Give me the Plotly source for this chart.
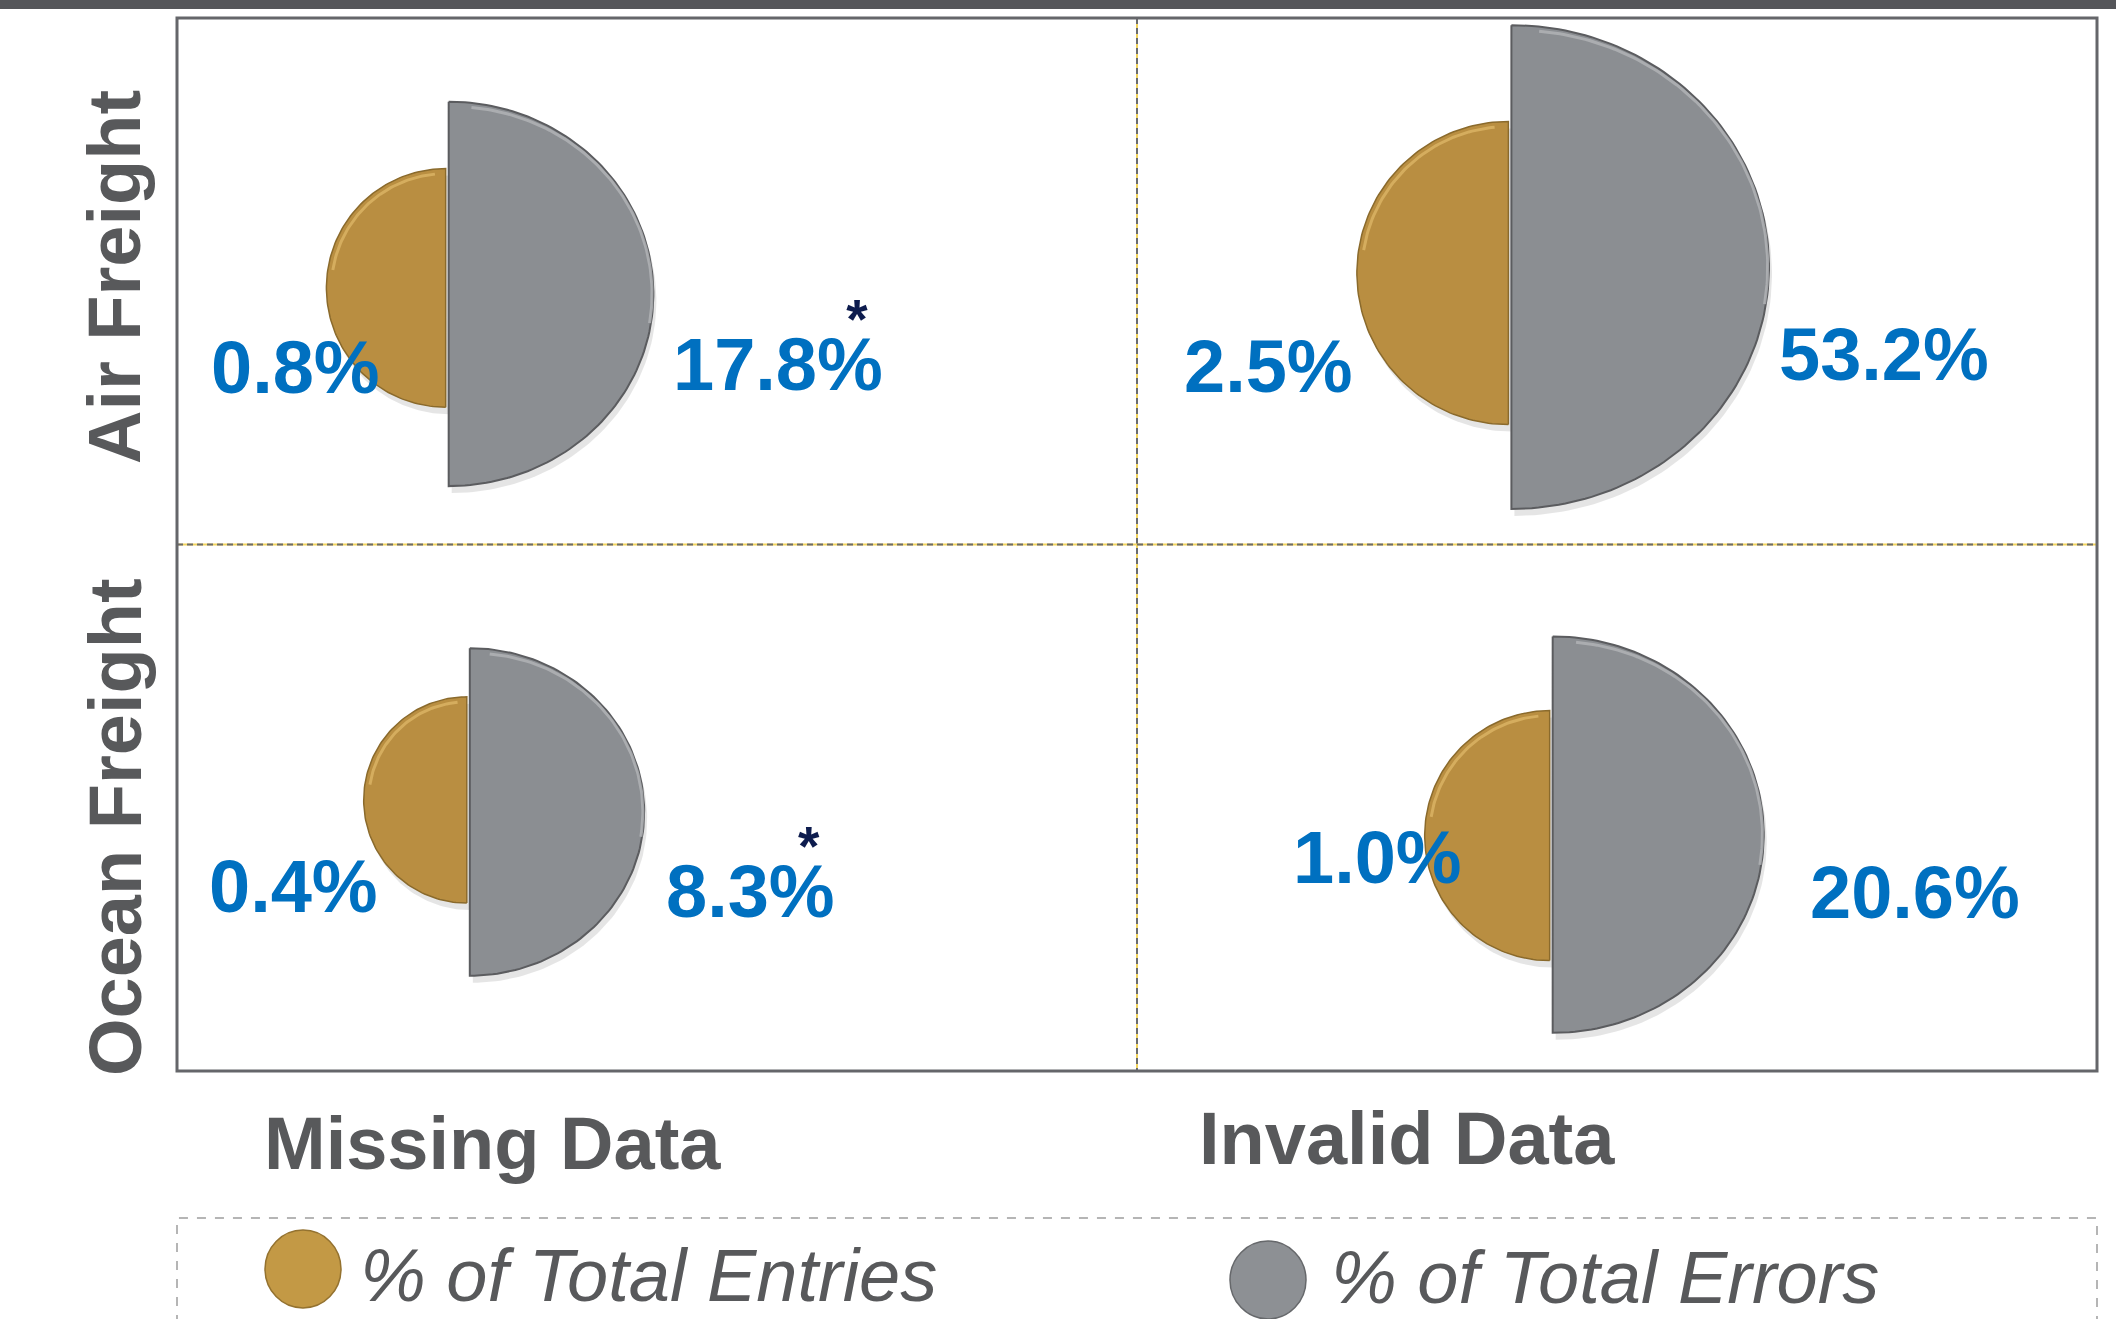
import numpy as np
import plotly.graph_objects as go

# ---------------- data ----------------
modes = ["Air Freight", "Ocean Freight"]
issue_types = ["Missing Data", "Invalid Data"]
series_names = ["% of Total Entries", "% of Total Errors"]
entries_air = [0.8, 2.5]      # % of total entries (Missing, Invalid)
entries_ocean = [0.4, 1.0]
errors_air = [17.8, 53.2]     # % of total errors (Missing, Invalid)
errors_ocean = [8.3, 20.6]
asterisk_air = [True, False]
asterisk_ocean = [True, False]

entries = [entries_air, entries_ocean]
errors = [errors_air, errors_ocean]
asterisks = [asterisk_air, asterisk_ocean]

# ---------------- layout / style constants ----------------
W, H = 2116, 1319
BOX = (177, 18, 2097, 1071)            # plot box in page pixels
X_PX = (BOX[2] - BOX[0]) / 2.0         # pixels per x unit (one column)
Y_PX = (BOX[3] - BOX[1]) / 2.0         # pixels per y unit (one row)

ORANGE, ORANGE_LINE, ORANGE_HI = "#b98e41", "#8a6a2c", "#dcb566"
GRAY, GRAY_LINE, GRAY_HI = "#8b8e92", "#5b5c5f", "#b3b5b8"
BLUE, TEXT_GRAY, NAVY = "#0070c0", "#58595b", "#0d1c4e"
FONT = "Liberation Sans, Arial, sans-serif"

SIZE_EXP = 0.21        # radius ~ value ** SIZE_EXP
R_ENTRIES = 125.0      # radius (px) at value 1 for entries
R_ERRORS = 105.0       # radius (px) at value 1 for errors
GRAY_ASPECT = 1.065
GAP_PX = 3

# (row, col) -> anchor x fraction in panel, gray center y fraction, orange dy px
PLACE = {(0, 0): (0.283, 0.524, -6), (0, 1): (0.390, 0.473, 6),
         (1, 0): (0.305, 0.508, -12), (1, 1): (0.433, 0.551, 1)}
LABEL_ENTRIES_PX = {(0, 0): (295, 367), (0, 1): (1268, 366), (1, 0): (293, 886), (1, 1): (1377, 857)}
LABEL_ERRORS_PX = {(0, 0): (778, 366), (0, 1): (1884, 354), (1, 0): (750, 893), (1, 1): (1915, 892)}


def ax_x(px):
    return (px - BOX[0]) / X_PX


def ax_y(py):
    return (py - BOX[1]) / Y_PX


def arc(edge_x, cy, r_px, aspect, th):
    return edge_x + np.cos(th) * r_px * aspect / X_PX, cy + np.sin(th) * r_px / Y_PX


def half_disk(edge_x, cy, r_px, aspect, side, n=120):
    if side < 0:
        th = np.linspace(np.pi / 2, 3 * np.pi / 2, n)
    else:
        th = np.linspace(-np.pi / 2, np.pi / 2, n)
    xs, ys = arc(edge_x, cy, r_px, aspect, th)
    return np.append(xs, xs[0]), np.append(ys, ys[0])


fig = go.Figure()

for r in range(2):
    for c in range(2):
        fx, fy, ody = PLACE[(r, c)]
        anchor = c + fx
        gcy = r + fy
        ocy = gcy + ody / Y_PX
        r_o = R_ENTRIES * entries[r][c] ** SIZE_EXP
        r_g = R_ERRORS * errors[r][c] ** SIZE_EXP
        o_edge = anchor - GAP_PX / X_PX
        ox, oy = half_disk(o_edge, ocy, r_o, 1.0, -1)
        gx, gy = half_disk(anchor, gcy, r_g, GRAY_ASPECT, 1)
        # soft shadows
        for xs, ys in ((ox, oy), (gx, gy)):
            fig.add_trace(go.Scatter(x=xs + 3 / X_PX, y=ys + 7 / Y_PX, mode="lines", fill="toself",
                                     fillcolor="rgba(0,0,0,0.10)", line=dict(width=0),
                                     hoverinfo="skip", showlegend=False))
        fig.add_trace(go.Scatter(x=ox, y=oy, mode="lines", fill="toself", fillcolor=ORANGE,
                                 line=dict(color=ORANGE_LINE, width=1.5),
                                 name=series_names[0], showlegend=False,
                                 hovertext=f"{modes[r]} - {issue_types[c]}: {entries[r][c]}%",
                                 hoverinfo="text"))
        # bevel highlight on the upper arc
        hx, hy = arc(o_edge, ocy, r_o - 5, 1.0, np.linspace(1.05 * np.pi, 1.47 * np.pi, 60))
        fig.add_trace(go.Scatter(x=hx, y=hy, mode="lines", line=dict(color=ORANGE_HI, width=3),
                                 opacity=0.8, hoverinfo="skip", showlegend=False))
        fig.add_trace(go.Scatter(x=gx, y=gy, mode="lines", fill="toself", fillcolor=GRAY,
                                 line=dict(color=GRAY_LINE, width=2),
                                 name=series_names[1], showlegend=False,
                                 hovertext=f"{modes[r]} - {issue_types[c]}: {errors[r][c]}%",
                                 hoverinfo="text"))
        hx, hy = arc(anchor + 4 / X_PX, gcy, r_g - 5, GRAY_ASPECT, np.linspace(-0.47 * np.pi, 0.05 * np.pi, 80))
        fig.add_trace(go.Scatter(x=hx, y=hy, mode="lines", line=dict(color=GRAY_HI, width=3),
                                 opacity=0.8, hoverinfo="skip", showlegend=False))

annotations = []
for r in range(2):
    for c in range(2):
        lx, ly = LABEL_ENTRIES_PX[(r, c)]
        annotations.append(dict(x=ax_x(lx), y=ax_y(ly), xref="x", yref="y",
                                text=f"{entries[r][c]:.1f}%", showarrow=False,
                                xanchor="center", yanchor="middle",
                                font=dict(family=FONT, size=74, color=BLUE, weight="bold")))
        lx, ly = LABEL_ERRORS_PX[(r, c)]
        if asterisks[r][c]:
            # asterisk wrapped into the same text, on a line above the value
            txt = (f'<span style="font-size:55px;color:{NAVY}">*&nbsp;</span><br>'
                   f'<span style="font-size:74px">{errors[r][c]:.1f}%</span>')
            annotations.append(dict(x=ax_x(lx), y=ax_y(ly + 42), xref="x", yref="y",
                                    text=txt, showarrow=False, align="right",
                                    xanchor="center", yanchor="bottom",
                                    font=dict(family=FONT, size=40, color=BLUE, weight="bold")))
        else:
            annotations.append(dict(x=ax_x(lx), y=ax_y(ly), xref="x", yref="y",
                                    text=f"{errors[r][c]:.1f}%", showarrow=False,
                                    xanchor="center", yanchor="middle",
                                    font=dict(family=FONT, size=74, color=BLUE, weight="bold")))

# row labels (rotated)
row_label_y_px = [277, 827]
for r, name in enumerate(modes):
    annotations.append(dict(x=115 / W, y=1 - row_label_y_px[r] / H,
                            xref="paper", yref="paper", text=name, showarrow=False, textangle=-90,
                            xanchor="center", yanchor="middle",
                            font=dict(family=FONT, size=74, color=TEXT_GRAY, weight="bold")))

# column labels
col_label_px = [(262, 1143), (1197, 1138)]
for c, name in enumerate(issue_types):
    lx, ly = col_label_px[c]
    annotations.append(dict(x=lx / W, y=1 - ly / H, xref="paper", yref="paper", text=name,
                            showarrow=False, xanchor="left", yanchor="middle",
                            font=dict(family=FONT, size=74, color=TEXT_GRAY, weight="bold")))

# legend texts
legend_text_px = [(358, 1275), (1329, 1277)]
for i, name in enumerate(series_names):
    lx, ly = legend_text_px[i]
    annotations.append(dict(x=lx / W, y=1 - ly / H, xref="paper", yref="paper", text=name,
                            showarrow=False, xanchor="left", yanchor="middle",
                            font=dict(family=FONT, size=74, color=TEXT_GRAY, style="italic")))

shapes = []
# top dark bar
shapes.append(dict(type="rect", xref="paper", yref="paper", x0=0, x1=1, y0=1 - 9 / H, y1=1,
                   fillcolor="#55565a", line=dict(width=0), layer="below"))
# dividers: yellow under gray dashes
for xx0, yy0, xx1, yy1 in [(1, 0, 1, 2), (0, 1, 2, 1)]:
    shapes.append(dict(type="line", xref="x", yref="y", x0=xx0, y0=yy0, x1=xx1, y1=yy1,
                       line=dict(color="#f2d45c", width=2), layer="below"))
    shapes.append(dict(type="line", xref="x", yref="y", x0=xx0, y0=yy0, x1=xx1, y1=yy1,
                       line=dict(color="#6a6b6e", width=2, dash="6px,4px"), layer="below"))
# plot box border
shapes.append(dict(type="rect", xref="paper", yref="paper", x0=BOX[0] / W, x1=BOX[2] / W,
                   y0=1 - BOX[3] / H, y1=1 - BOX[1] / H, line=dict(color="#65666a", width=3)))
# legend dashed box
shapes.append(dict(type="rect", xref="paper", yref="paper", x0=BOX[0] / W, x1=BOX[2] / W,
                   y0=-0.05, y1=1 - 1218 / H, line=dict(color="#b5b5b5", width=2, dash="dash")))
# legend swatches
legend_swatch = [((303, 1269), "#c39945", "#94722f"), ((1268, 1280), "#8d9094", "#66686b")]
for (cx, cy), fc, lc in legend_swatch:
    shapes.append(dict(type="circle", xref="paper", yref="paper",
                       x0=(cx - 38) / W, x1=(cx + 38) / W, y0=1 - (cy + 39) / H, y1=1 - (cy - 39) / H,
                       fillcolor=fc, line=dict(color=lc, width=1.5)))

fig.update_layout(
    width=W, height=H, margin=dict(l=0, r=0, t=0, b=0),
    paper_bgcolor="white", plot_bgcolor="white",
    xaxis=dict(domain=[BOX[0] / W, BOX[2] / W], range=[0, 2], visible=False, fixedrange=True),
    yaxis=dict(domain=[1 - BOX[3] / H, 1 - BOX[1] / H], range=[2, 0], visible=False, fixedrange=True),
    annotations=annotations, shapes=shapes, showlegend=False,
)

fig.write_html("out.html", config={"displayModeBar": False},
               post_script="document.body.style.margin='0';document.body.style.overflow='hidden';")
